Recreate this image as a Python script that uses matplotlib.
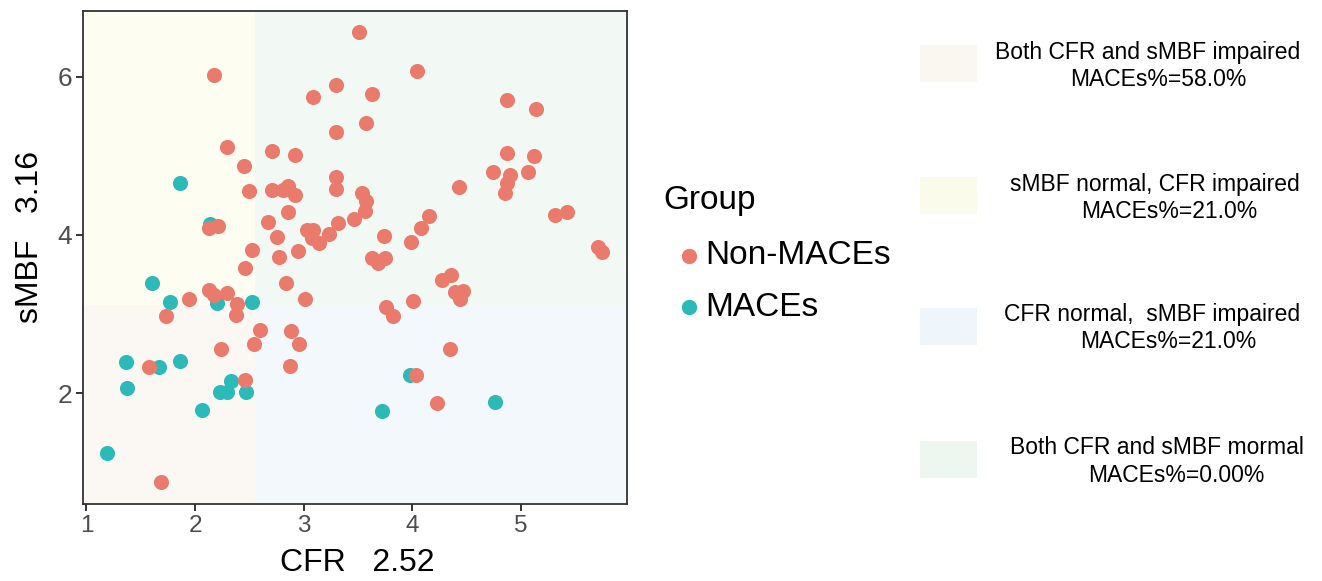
import matplotlib
matplotlib.use("Agg")
import matplotlib.pyplot as plt
from matplotlib.patches import Rectangle

plt.rcParams["font.family"] = ["Liberation Sans", "DejaVu Sans"]

# cut-offs used for the four shaded zones
CFR_CUT = 2.55
SMBF_CUT = 3.12

non_cfr = [2.17, 3.30, 3.09, 3.30, 2.29, 2.71, 2.92, 2.45, 3.30, 3.30, 2.50, 2.71,
           2.86, 2.81, 2.92, 2.86, 2.67, 3.32, 2.13, 2.21, 2.75, 3.03, 3.09, 3.08,
           3.14, 3.23, 2.95, 2.52, 2.77, 2.46, 2.84, 2.13, 2.17, 2.29, 3.51, 4.04,
           3.63, 3.57, 4.87, 5.14, 4.87, 5.12, 4.74, 4.90, 5.07, 4.87, 4.85, 4.43,
           3.54, 3.57, 3.56, 3.46, 4.15, 4.08, 3.99, 3.74, 3.63, 3.75, 3.68, 5.31,
           5.42, 5.71, 5.75, 4.27, 4.36, 4.39, 4.47, 4.44, 4.01, 3.76, 3.82, 3.01,
           4.35, 4.03, 4.23, 1.94, 2.39, 2.38, 1.73, 2.60, 2.88, 2.96, 2.54, 2.24,
           2.87, 1.58, 2.46, 1.69]
non_smbf = [6.02, 5.90, 5.74, 5.30, 5.11, 5.06, 5.01, 4.87, 4.73, 4.58, 4.55, 4.57,
            4.62, 4.57, 4.50, 4.29, 4.16, 4.15, 4.09, 4.11, 3.98, 4.06, 4.06, 3.96,
            3.90, 4.01, 3.80, 3.81, 3.72, 3.58, 3.39, 3.30, 3.24, 3.27, 6.56, 6.07,
            5.78, 5.41, 5.70, 5.59, 5.04, 5.00, 4.80, 4.76, 4.80, 4.66, 4.53, 4.60,
            4.53, 4.43, 4.30, 4.20, 4.24, 4.09, 3.91, 3.99, 3.71, 3.71, 3.65, 4.25,
            4.29, 3.85, 3.78, 3.43, 3.49, 3.28, 3.29, 3.19, 3.17, 3.09, 2.98, 3.19,
            2.56, 2.23, 1.88, 3.19, 3.13, 2.99, 2.98, 2.80, 2.79, 2.62, 2.62, 2.56,
            2.35, 2.33, 2.17, 0.88]

maces_cfr = [1.86, 2.14, 1.60, 1.77, 2.20, 2.52, 1.36, 1.67, 1.86, 1.37, 2.33, 2.23,
             2.29, 2.47, 2.06, 1.19, 3.98, 3.72, 4.76]
maces_smbf = [4.66, 4.14, 3.39, 3.15, 3.14, 3.15, 2.40, 2.33, 2.41, 2.06, 2.15, 2.01,
              2.01, 2.01, 1.79, 1.25, 2.23, 1.77, 1.89]

zone_lines = [
    ("Both CFR and sMBF impaired", "MACEs%=58.0%"),
    ("sMBF normal, CFR impaired", "MACEs%=21.0%"),
    ("CFR normal,  sMBF impaired", "MACEs%=21.0%"),
    ("Both CFR and sMBF mormal", "MACEs%=0.00%"),
]
zone_colors = ["#FAF6F0", "#FBFBEC", "#EEF6FC", "#EDF7F0"]

W, H = 1322, 581
fig = plt.figure(figsize=(W / 100, H / 100), dpi=100)
ax = fig.add_axes([83 / W, 77 / H, 544 / W, 493 / H])

xlim = (0.968, 5.977)
ylim = (0.60, 6.83)
ax.set_xlim(xlim)
ax.set_ylim(ylim)

# shaded zones
ax.add_patch(Rectangle((xlim[0], ylim[0]), CFR_CUT - xlim[0], SMBF_CUT - ylim[0],
                       color="#FBF7F2", lw=0, zorder=0))
ax.add_patch(Rectangle((xlim[0], SMBF_CUT), CFR_CUT - xlim[0], ylim[1] - SMBF_CUT,
                       color="#FDFDF1", lw=0, zorder=0))
ax.add_patch(Rectangle((CFR_CUT, ylim[0]), xlim[1] - CFR_CUT, SMBF_CUT - ylim[0],
                       color="#F3F8FD", lw=0, zorder=0))
ax.add_patch(Rectangle((CFR_CUT, SMBF_CUT), xlim[1] - CFR_CUT, ylim[1] - SMBF_CUT,
                       color="#F2F8F3", lw=0, zorder=0))

ax.scatter(maces_cfr, maces_smbf, s=118, color="#2BBAB7", lw=0, zorder=2, label="MACEs")
ax.scatter(non_cfr, non_smbf, s=118, color="#EA7A6B", lw=0, zorder=3, label="Non-MACEs")

ax.set_xticks([1, 2, 3, 4, 5])
ax.set_yticks([2, 4, 6])
ax.tick_params(axis="both", length=5, width=1.4, color="#333333", colors="#4D4D4D")
ax.tick_params(axis="x", labelsize=17.5, pad=3)
ax.tick_params(axis="y", labelsize=19, pad=3)
for sp in ax.spines.values():
    sp.set_color("#333333")
    sp.set_linewidth(1.3)

fig.text(357 / W, 1 - 563 / H, "CFR   2.52", fontsize=23, ha="center", va="center")
fig.text(30 / W, 1 - 237 / H, "sMBF   3.16", fontsize=23, ha="center", va="center",
         rotation=90)

# group legend
fig.text(663 / W, 1 - 200 / H, "Group", fontsize=24, ha="left", va="center")
for label, color, y in [("Non-MACEs", "#EA7A6B", 256), ("MACEs", "#2BBAB7", 307)]:
    fig.lines.append(plt.Line2D([689 / W], [1 - y / H], marker="o", markersize=10,
                                color=color, lw=0, transform=fig.transFigure))
    fig.text(705 / W, 1 - y / H, label, fontsize=24, ha="left", va="center")

# zone legend
box_tops = [45, 177, 308, 441]
line1_x = [1148, 1155, 1152, 1157]
line2_x = [1158, 1169, 1168, 1176]
for i, (l1, l2) in enumerate(zone_lines):
    top = box_tops[i]
    fig.patches.append(Rectangle((920 / W, 1 - (top + 37) / H), 57 / W, 37 / H,
                                 color=zone_colors[i], lw=0, transform=fig.transFigure))
    fig.text(line1_x[i] / W, 1 - (top + 7) / H, l1, fontsize=16.5, ha="center", va="center")
    fig.text(line2_x[i] / W, 1 - (top + 34) / H, l2, fontsize=16.5, ha="center", va="center")

fig.savefig("out.png", dpi=100, facecolor="white")
